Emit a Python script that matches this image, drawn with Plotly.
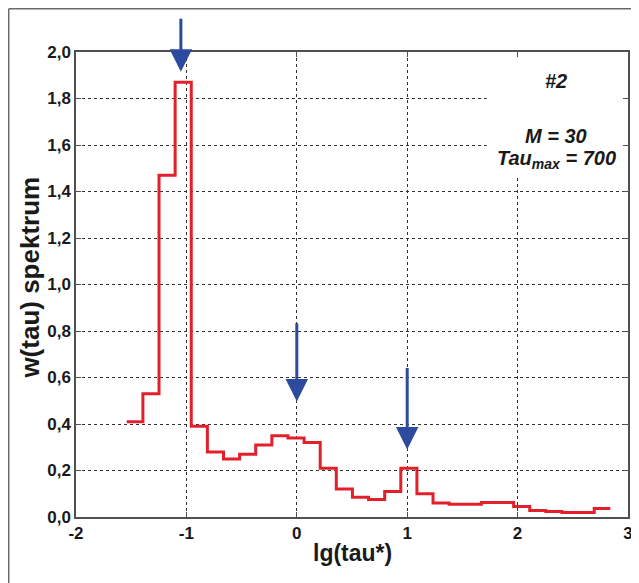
import plotly.graph_objects as go

# Bin edges of lg(tau*) (30 bins, M = 30)
bin_edges = [-1.54, -1.394, -1.248, -1.102, -0.956, -0.81, -0.664, -0.518, -0.372,
             -0.226, -0.08, 0.066, 0.212, 0.358, 0.504, 0.65, 0.796, 0.942, 1.088,
             1.234, 1.38, 1.526, 1.672, 1.818, 1.964, 2.11, 2.256, 2.402, 2.548,
             2.694, 2.84]
# Spectrum values per bin
w_values = [0.41, 0.53, 1.47, 1.87, 0.39, 0.28, 0.25, 0.27, 0.31, 0.35,
            0.34, 0.32, 0.21, 0.12, 0.085, 0.075, 0.11, 0.21, 0.10, 0.06,
            0.055, 0.055, 0.062, 0.062, 0.045, 0.028, 0.024, 0.019, 0.019, 0.037]

x_ticks = [-2, -1, 0, 1, 2, 3]
y_ticks = [0.0, 0.2, 0.4, 0.6, 0.8, 1.0, 1.2, 1.4, 1.6, 1.8, 2.0]

# Peak markers (arrows): x, tip value, tail value
arrow_x = [-1.05, 0.0, 1.0]
arrow_tip = [1.915, 0.497, 0.29]
arrow_tail = [2.15, 0.84, 0.647]

FONT = "Liberation Sans Narrow, Arial Narrow, Liberation Sans, Arial, sans-serif"
RED = "#e3202a"
BLUE = "#2c4b9f"
AXIS = "#505050"
TXT = "#1a1a1a"

fig = go.Figure()
fig.add_trace(go.Scatter(
    x=bin_edges,
    y=w_values + [w_values[-1]],
    mode="lines",
    line=dict(shape="hv", color=RED, width=3),
    showlegend=False,
))

# white box behind the legend text covering the grid
fig.add_shape(type="rect", xref="x", yref="y", x0=1.72, x1=3.0, y0=1.46, y1=2.0,
              fillcolor="white", line=dict(width=0), layer="between")

for xa, yt, ya in zip(arrow_x, arrow_tip, arrow_tail):
    fig.add_annotation(x=xa, y=yt, ax=xa, ay=ya, xref="x", yref="y",
                       axref="x", ayref="y", text="", showarrow=True,
                       arrowhead=2, arrowsize=1.5, arrowwidth=3, arrowcolor=BLUE)

txtfont = dict(family=FONT, size=20, color=TXT, weight="bold")
fig.add_annotation(x=0.87, y=0.937, xref="paper", yref="paper", text="<i>#2</i>",
                   showarrow=False, font=txtfont, xanchor="center", yanchor="middle")
fig.add_annotation(x=0.87, y=0.82, xref="paper", yref="paper",
                   text="<i>M = 30</i>", showarrow=False, font=txtfont,
                   xanchor="center", yanchor="middle")
fig.add_annotation(x=0.87, y=0.768, xref="paper", yref="paper",
                   text="<i>Tau<sub>max</sub> = 700</i>", showarrow=False, font=txtfont,
                   xanchor="center", yanchor="middle")

# axis titles
fig.add_annotation(x=0.5, y=-0.077, xref="paper", yref="paper", text="lg(tau*)",
                   showarrow=False, xanchor="center", yanchor="middle",
                   font=dict(family=FONT, size=23, color=TXT, weight="bold"))
fig.add_annotation(x=-0.085, y=0.515, xref="paper", yref="paper", text="w(tau) spektrum",
                   showarrow=False, textangle=-90, xanchor="center", yanchor="middle",
                   font=dict(family=FONT, size=26, color=TXT, weight="bold"))

# outer frame (left and top edges)
fig.add_shape(type="line", xref="paper", yref="paper", x0=-0.1219, x1=1.03,
              y0=1.0929, y1=1.0929, line=dict(color="#6a6a6a", width=1.5))
fig.add_shape(type="line", xref="paper", yref="paper", x0=-0.1219, x1=-0.1219,
              y0=1.0929, y1=-0.16, line=dict(color="#6a6a6a", width=1.5))

axis_common = dict(
    showline=True, linecolor=AXIS, linewidth=1.5, mirror="ticks",
    ticks="inside", ticklen=5, tickcolor=AXIS, tickwidth=1.2,
    showgrid=True, gridcolor="#333333", gridwidth=1, griddash="3px,3px",
    zeroline=False, automargin=False,
    tickfont=dict(family=FONT, size=17, color=TXT, weight="bold"),
)

fig.update_xaxes(range=[-2, 3], tickvals=x_ticks, ticktext=[str(v) for v in x_ticks],
                 **axis_common)
fig.update_yaxes(range=[0, 2.0], tickvals=y_ticks, tickformat=".1f", **axis_common)

fig.update_layout(
    width=631, height=575,
    margin=dict(l=68, r=11, t=44, b=65.5, autoexpand=False),
    paper_bgcolor="white", plot_bgcolor="white",
    separators=",.",
    showlegend=False,
)

fig.write_html("out.html")
